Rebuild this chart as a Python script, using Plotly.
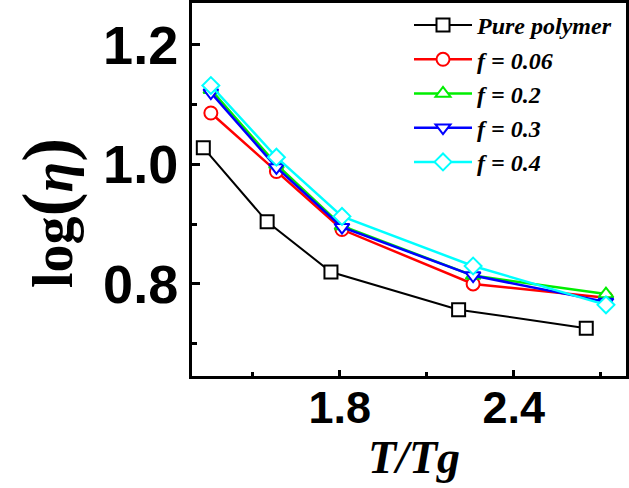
import plotly.graph_objects as go

# Data
x_pure = [1.33, 1.55, 1.77, 2.21, 2.65]
y_pure = [1.028, 0.904, 0.820, 0.757, 0.726]

x_f = [1.356, 1.582, 1.808, 2.26, 2.718]
y_f006 = [1.086, 0.988, 0.891, 0.800, 0.777]
y_f02 = [1.125, 1.000, 0.897, 0.814, 0.783]
y_f03 = [1.120, 0.995, 0.895, 0.814, 0.770]
y_f04 = [1.132, 1.012, 0.913, 0.830, 0.765]

series = [
    ("Pure polymer", x_pure, y_pure, "black", "square", 2),
    ("f = 0.06", x_f, y_f006, "#ff0000", "circle", 2.5),
    ("f = 0.2", x_f, y_f02, "#00ee00", "triangle-up", 2.5),
    ("f = 0.3", x_f, y_f03, "#0000ff", "triangle-down", 2.5),
    ("f = 0.4", x_f, y_f04, "#00ffff", "diamond", 2.5),
]

fig = go.Figure()
for name, xs, ys, col, sym, lw in series:
    fig.add_trace(go.Scatter(
        x=xs, y=ys, name=name, mode="lines+markers",
        line=dict(color=col, width=lw),
        marker=dict(symbol=sym, size=13, color="white",
                    line=dict(color=col, width=2)),
    ))

fig.update_layout(
    width=629, height=488,
    margin=dict(l=192, r=0, t=0, b=112),
    plot_bgcolor="white", paper_bgcolor="white",
    showlegend=True,
    legend=dict(
        x=0.5, y=1.0, xanchor="left", yanchor="top",
        bgcolor="rgba(0,0,0,0)", itemwidth=58, tracegroupgap=0,
        font=dict(family="Liberation Serif", size=24, color="black",
                  weight="bold", style="italic"),
    ),
    annotations=[
        dict(text="T/Tg", xref="paper", yref="paper", x=(416 - 192) / 437, y=-0.146,
             xanchor="center", yanchor="top", showarrow=False,
             font=dict(family="Liberation Serif", size=46, color="black",
                       weight="bold", style="italic")),
        dict(text='log<span style="font-size:72px">(</span><i>η</i><span style="font-size:72px">)</span>',
             xref="paper", yref="paper", x=-0.33, y=(376 - 212) / 376,
             xanchor="center", yanchor="middle", showarrow=False, textangle=-90,
             font=dict(family="Liberation Serif", size=56, color="black", weight="bold")),
    ],
)
fig.update_xaxes(
    range=[1.291, 2.787], tick0=1.2, dtick=0.6, tickformat=".1f",
    ticks="inside", ticklen=6, tickwidth=3, tickcolor="black",
    minor=dict(dtick=0.3, tick0=1.2, ticks="inside", ticklen=4, tickwidth=3, tickcolor="black"),
    showline=True, linewidth=3, linecolor="black", mirror=True,
    showgrid=False, zeroline=False, ticklabelstandoff=-10,
    tickfont=dict(family="Liberation Sans", size=45, color="black", weight="bold"),
)
fig.update_yaxes(
    range=[0.646, 1.27], tick0=0.0, dtick=0.2, tickformat=".1f",
    ticks="inside", ticklen=8, tickwidth=3, tickcolor="black",
    minor=dict(dtick=0.1, ticks="inside", ticklen=5, tickwidth=3, tickcolor="black"),
    showline=True, linewidth=3, linecolor="black", mirror=True,
    showgrid=False, zeroline=False,
    tickfont=dict(family="Liberation Sans", size=54, color="black", weight="bold"),
)

fig.write_html("out.html")
